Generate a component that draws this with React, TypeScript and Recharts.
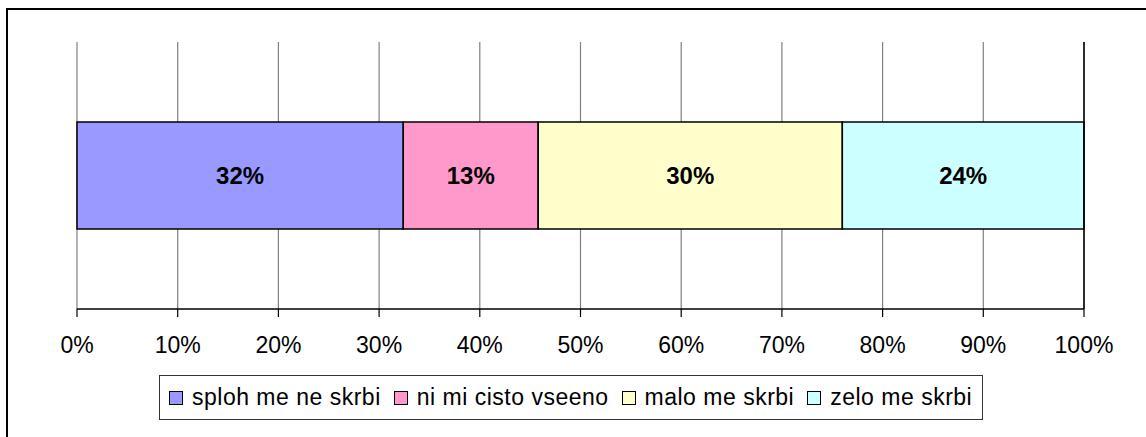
import React from 'react';
import {
  BarChart,
  Bar,
  XAxis,
  YAxis,
  CartesianGrid,
  ReferenceLine,
  LabelList,
} from 'recharts';

const CATEGORIES = [''];
const SERIES = ['sploh me ne skrbi', 'ni mi cisto vseeno', 'malo me skrbi', 'zelo me skrbi'];
const VALUES = [32.4, 13.4, 30.2, 24.0];
const TICKS = [0, 10, 20, 30, 40, 50, 60, 70, 80, 90, 100];

const COLORS = ['#9999FF', '#FF99CC', '#FFFFCC', '#CCFFFF'];
const FONT = '"Liberation Sans", Arial, sans-serif';
const PLOT_H = 267;

const data = CATEGORIES.map((name) => {
  const row: Record<string, string | number> = { name };
  SERIES.forEach((s, i) => {
    row[`s${i}`] = VALUES[i];
  });
  return row;
});

// small ticks on the left axis at the band edges
const BandTick = (props: any) => {
  const { x, y } = props;
  return (
    <g>
      <line x1={x - 8} x2={x} y1={y - PLOT_H / 2} y2={y - PLOT_H / 2} stroke="#000" strokeWidth={1.5} />
      <line x1={x - 8} x2={x} y1={y + PLOT_H / 2} y2={y + PLOT_H / 2} stroke="#000" strokeWidth={1.5} />
    </g>
  );
};

const App: React.FC = () => {
  return (
    <div style={{ position: 'fixed', left: 0, top: 0, width: 1146, height: 437, background: '#fff', overflow: 'hidden' }}>
      <div style={{ position: 'absolute', left: 0, top: 0 }}>
        <BarChart
          width={1146}
          height={437}
          data={data}
          layout="vertical"
          margin={{ top: 42, right: 62, left: 77, bottom: 88 }}
          barCategoryGap="30%"
        >
          <CartesianGrid horizontal={false} stroke="#808080" strokeWidth={1.2} />
          <XAxis
            type="number"
            domain={[0, 100]}
            ticks={TICKS}
            tickFormatter={(v: number) => `${v}%`}
            tick={{ fontSize: 23, fill: '#000', fontFamily: FONT }}
            tickSize={8}
            tickMargin={20}
            tickLine={{ stroke: '#000', strokeWidth: 1.2 }}
            axisLine={{ stroke: '#000', strokeWidth: 1.5 }}
            height={40}
            interval={0}
          />
          <XAxis
            xAxisId="top"
            orientation="top"
            type="number"
            domain={[0, 100]}
            height={0}
            tick={false}
            tickLine={false}
            axisLine={{ stroke: '#000', strokeWidth: 1.5 }}
          />
          <YAxis
            type="category"
            dataKey="name"
            width={0}
            tickSize={0}
            tickMargin={0}
            tick={<BandTick />}
            axisLine={{ stroke: '#000', strokeWidth: 1.5 }}
          />
          <ReferenceLine x={100} stroke="#000" strokeWidth={1.5} />
          {SERIES.map((s, i) => (
            <Bar
              key={s}
              dataKey={`s${i}`}
              name={s}
              stackId="a"
              fill={COLORS[i]}
              stroke="#000"
              strokeWidth={1.5}
              isAnimationActive={false}
            >
              <LabelList
                dataKey={`s${i}`}
                position="center"
                formatter={(v: any) => `${Math.round(Number(v))}%`}
                style={{ fontSize: 24, fontWeight: 'bold', fill: '#000', fontFamily: FONT }}
              />
            </Bar>
          ))}
        </BarChart>
      </div>
      <div
        style={{
          position: 'absolute',
          left: 159,
          top: 375,
          height: 45,
          border: '1px solid #333',
          boxSizing: 'border-box',
          display: 'flex',
          alignItems: 'center',
          paddingLeft: 9,
          paddingRight: 10,
          fontFamily: FONT,
          fontSize: 23,
          letterSpacing: 0.5,
          color: '#000',
          background: '#fff',
          whiteSpace: 'nowrap',
        }}
      >
        {SERIES.map((s, i) => (
          <div key={s} style={{ display: 'flex', alignItems: 'center', marginRight: i < SERIES.length - 1 ? 13 : 0 }}>
            <span
              style={{
                display: 'inline-block',
                width: 14,
                height: 14,
                boxSizing: 'border-box',
                border: '1.5px solid #000',
                background: COLORS[i],
                marginRight: 9,
              }}
            />
            <span>{s}</span>
          </div>
        ))}
      </div>
      {/* outer chart frame, cut off at the right and bottom */}
      <svg
        width={1146}
        height={437}
        style={{ position: 'absolute', left: 0, top: 0, pointerEvents: 'none' }}
      >
        <path d="M7,437 V9 H1146" fill="none" stroke="#000" strokeWidth={2} />
      </svg>
    </div>
  );
};

export default App;
